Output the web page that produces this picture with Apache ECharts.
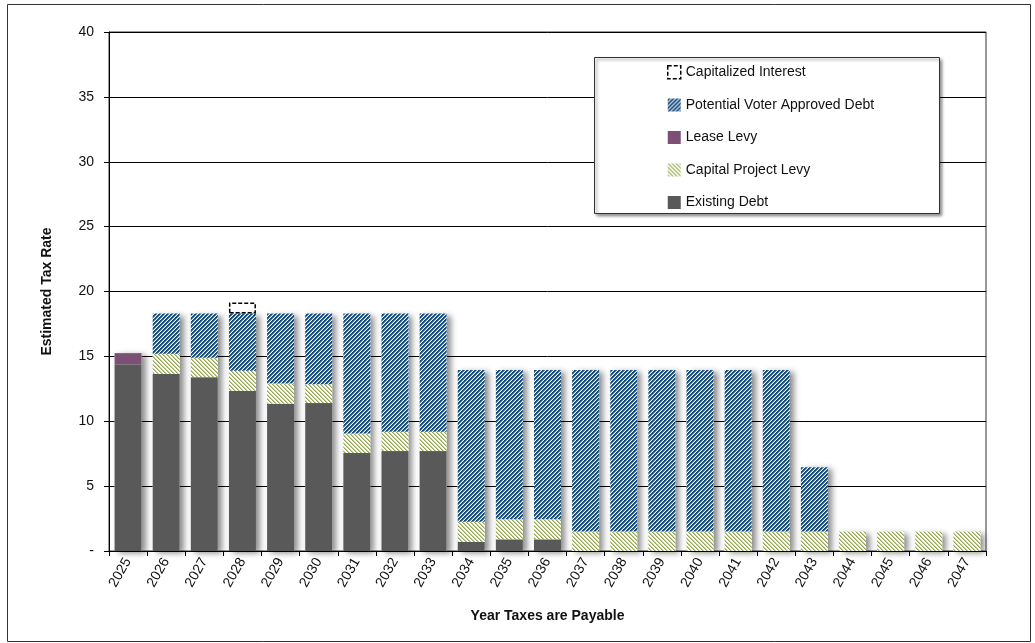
<!DOCTYPE html>
<html>
<head>
<meta charset="utf-8">
<script src="https://cdn.jsdelivr.net/npm/echarts@6/dist/echarts.min.js"></script>
<style>
  html, body { margin: 0; padding: 0; background: #fff; }
  #chart { width: 1035px; height: 643px; }
</style>
</head>
<body>
<div id="chart"></div>
<script>
// Tax years on the horizontal axis
const years = ['2025','2026','2027','2028','2029','2030','2031','2032','2033','2034','2035','2036',
               '2037','2038','2039','2040','2041','2042','2043','2044','2045','2046','2047'];

// Estimated tax rate components, per year
const existingDebt = [14.4, 13.65, 13.4, 12.35, 11.35, 11.4, 7.55, 7.7, 7.7, 0.7, 0.9, 0.9,
                      0, 0, 0, 0, 0, 0, 0, 0, 0, 0, 0];
const capitalProjectLevy = [0, 1.55, 1.5, 1.55, 1.55, 1.45, 1.5, 1.5, 1.5, 1.55, 1.55, 1.55,
                            1.5, 1.5, 1.5, 1.5, 1.5, 1.5, 1.5, 1.5, 1.5, 1.5, 1.5];
const leaseLevy = [0.85, 0, 0, 0, 0, 0, 0, 0, 0, 0, 0, 0,
                   0, 0, 0, 0, 0, 0, 0, 0, 0, 0, 0];
const voterApprovedDebt = [0, 3.1, 3.4, 4.4, 5.4, 5.45, 9.25, 9.1, 9.1, 11.7, 11.5, 11.5,
                           12.45, 12.45, 12.45, 12.45, 12.45, 12.45, 4.95, 0, 0, 0, 0];
const capitalizedInterest = [0, 0, 0, 0.85, 0, 0, 0, 0, 0, 0, 0, 0,
                             0, 0, 0, 0, 0, 0, 0, 0, 0, 0, 0];

// Y axis ticks
const yTicks = [0, 5, 10, 15, 20, 25, 30, 35, 40];

const FONT = "'Liberation Sans', Arial, sans-serif";

// Zero-height segments are left empty so no stray outlines get drawn
const gaps = arr => arr.map(v => (v ? v : null));

// Diagonal hatch fill: dir 1 => "/" stripes, dir -1 => "\" stripes
function hatch(fg, mid, dir, period, on) {
  const c = document.createElement('canvas');
  c.width = period; c.height = period;
  const ctx = c.getContext('2d');
  for (let y = 0; y < period; y++) {
    for (let x = 0; x < period; x++) {
      const k = dir > 0 ? (x + y) % period : (((x - y) % period) + period) % period;
      ctx.fillStyle = k < on ? fg : (k === on ? mid : '#ffffff');
      ctx.fillRect(x, y, 1, 1);
    }
  }
  return { image: c, repeat: 'repeat' };
}

const blueHatch = hatch('#174b7c', '#6b90b6', 1, 4, 2);
const greenHatch = hatch('#93a84e', '#c3cf95', -1, 4, 1);

// Column outline that carries the drop shadow behind each stack
const stackTotals = years.map((_, i) =>
  existingDebt[i] + capitalProjectLevy[i] + leaseLevy[i] + voterApprovedDebt[i]);

const BAR_W = 27;

const chart = echarts.init(document.getElementById('chart'), null, { renderer: 'canvas' });

chart.setOption({
  animation: false,
  backgroundColor: '#ffffff',
  textStyle: { fontFamily: FONT },
  grid: {
    left: 109, right: 49, top: 32, bottom: 92,
    show: true, borderColor: '#333', borderWidth: 1, backgroundColor: 'transparent'
  },
  graphic: [
    {
      type: 'rect', z: -10, silent: true,
      shape: { x: 7.5, y: 4.5, width: 1023, height: 637 },
      style: { fill: 'none', stroke: '#333', lineWidth: 1 }
    },
    {
      type: 'rect', z: 50, silent: true,
      shape: { x: 594.5, y: 57.5, width: 345, height: 156 },
      style: {
        fill: '#fff', stroke: '#333', lineWidth: 1,
        shadowBlur: 3, shadowOffsetX: 2, shadowOffsetY: 2, shadowColor: 'rgba(0,0,0,0.45)'
      }
    }
  ],
  legend: {
    orient: 'vertical',
    left: 667, top: 65,
    z: 60,
    icon: 'rect',
    itemWidth: 13, itemHeight: 13, itemGap: 18.5,
    padding: 0,
    textStyle: { fontFamily: FONT, fontSize: 14, color: '#111' },
    data: [
      {
        name: 'Capitalized Interest',
        itemStyle: { color: 'rgba(255,255,255,0)', borderColor: '#000', borderWidth: 1.5, borderType: [4, 2] }
      },
      'Potential Voter Approved Debt', 'Lease Levy', 'Capital Project Levy', 'Existing Debt'
    ]
  },
  xAxis: {
    type: 'category',
    data: years,
    name: 'Year Taxes are Payable',
    nameLocation: 'middle',
    nameGap: 58,
    nameTextStyle: { fontFamily: FONT, fontWeight: 'bold', fontSize: 14, color: '#111' },
    axisLine: { lineStyle: { color: '#000', width: 1 } },
    axisTick: { show: true, length: 5, lineStyle: { color: '#000' } },
    axisLabel: { rotate: 60, fontSize: 14, color: '#111', margin: 8, fontFamily: FONT },
    splitLine: { show: false }
  },
  yAxis: {
    type: 'value',
    min: 0, max: 40, interval: 5,
    name: 'Estimated Tax Rate',
    nameLocation: 'middle',
    nameRotate: 90,
    nameGap: 55,
    nameTextStyle: { fontFamily: FONT, fontWeight: 'bold', fontSize: 14, color: '#111' },
    axisLine: { show: true, lineStyle: { color: '#000', width: 1 } },
    axisTick: { show: true, length: 5, lineStyle: { color: '#000' } },
    axisLabel: {
      fontSize: 14, color: '#111', margin: 15, fontFamily: FONT,
      formatter: v => (yTicks.indexOf(v) === 0 ? '-' : String(v))
    },
    splitLine: { show: true, lineStyle: { color: '#000', width: 1 } }
  },
  series: [
    {
      name: 'shadow',
      type: 'bar',
      data: stackTotals,
      barWidth: BAR_W,
      barGap: '-100%',
      silent: true,
      z: 1,
      itemStyle: {
        color: '#ffffff',
        shadowBlur: 6, shadowOffsetX: 4, shadowOffsetY: 2, shadowColor: 'rgba(0,0,0,0.45)'
      }
    },
    {
      name: 'Existing Debt', type: 'bar', stack: 'rate', data: gaps(existingDebt),
      barWidth: BAR_W, barGap: '-100%', z: 3,
      itemStyle: { color: '#595959' }
    },
    {
      name: 'Capital Project Levy', type: 'bar', stack: 'rate', data: gaps(capitalProjectLevy),
      barWidth: BAR_W, z: 3,
      itemStyle: { color: greenHatch }
    },
    {
      name: 'Lease Levy', type: 'bar', stack: 'rate', data: gaps(leaseLevy),
      barWidth: BAR_W, z: 3,
      itemStyle: { color: '#7c5075' }
    },
    {
      name: 'Potential Voter Approved Debt', type: 'bar', stack: 'rate', data: gaps(voterApprovedDebt),
      barWidth: BAR_W, z: 3,
      itemStyle: { color: blueHatch }
    },
    {
      name: 'Capitalized Interest', type: 'bar', stack: 'rate', data: gaps(capitalizedInterest),
      barWidth: BAR_W, z: 3,
      itemStyle: { color: 'rgba(255,255,255,0)', borderColor: '#000', borderWidth: 1.5, borderType: [4, 2] }
    }
  ]
});
</script>
</body>
</html>
